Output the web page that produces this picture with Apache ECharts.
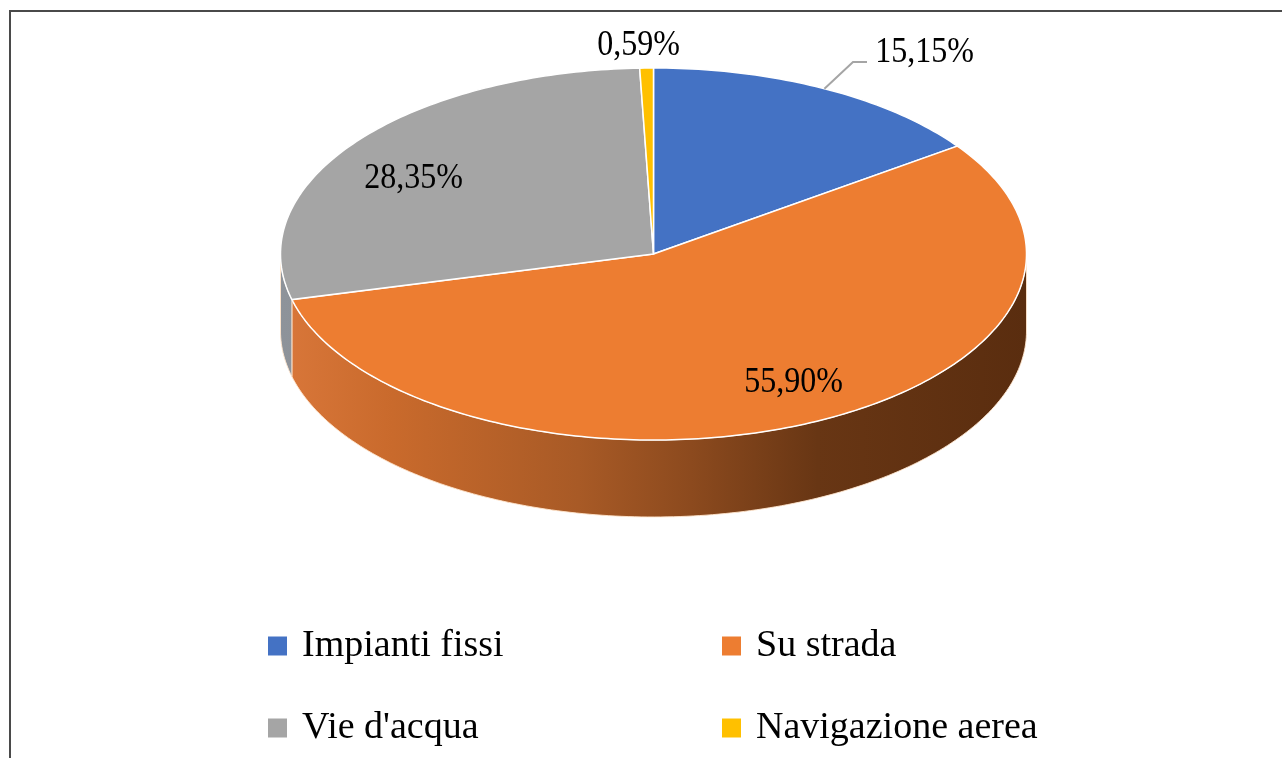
<!DOCTYPE html>
<html>
<head>
<meta charset="utf-8">
<script src="https://cdn.jsdelivr.net/npm/echarts@6/dist/echarts.min.js"></script>
<style>
  html, body { margin: 0; padding: 0; background: #fff; }
  #main { width: 1282px; height: 758px; }
</style>
</head>
<body>
<div id="main"></div>
<script>
// dati (quote %)
var categories = ['Impianti fissi', 'Su strada', "Vie d'acqua", 'Navigazione aerea'];
var values = [15.15, 55.90, 28.35, 0.59];
var labels = ['15,15%', '55,90%', '28,35%', '0,59%'];

// colori
var topColors = ['#4472C4', '#ED7D31', '#A5A5A5', '#FFC000'];
var sideStops = [
  [[0, '#2f5597'], [1, '#1f3864']],
  [[0, '#d9773a'], [0.15, '#c96a2c'], [0.4, '#a85a26'], [0.55, '#8c4a1e'], [0.72, '#683614'], [1, '#5a2d0f']],
  [[0, '#8e939a'], [1, '#6f6f6f']],
  [[0, '#c99700'], [1, '#8a6800']]
];

// geometria della torta 3d (px)
var CX = 653.5, CY = 254, RX = 373, RY = 186, DEPTH = 77;
// posizione etichette rispetto al centro
var labelOffset = [[271, -203], [140, 127], [-240, -77], [-15, -210]];
var leaderPts = [[[199.5, -192], [213.5, -192]], null, null, null];

var total = values.reduce(function (a, b) { return a + b; }, 0);
var starts = [];
var acc = 0;
values.forEach(function (v) { starts.push(acc); acc += v; });

function pt(a, dy) {
  var r = a * Math.PI / 180;
  return [CX + RX * Math.sin(r), CY - RY * Math.cos(r) + dy];
}

function arc(a0, a1, dy) {
  var pts = [];
  var n = Math.max(2, Math.ceil(a1 - a0));
  for (var k = 0; k <= n; k++) {
    pts.push(pt(a0 + (a1 - a0) * k / n, dy));
  }
  return pts;
}

function renderSlice(params, api) {
  var idx = params.seriesIndex;
  var start = api.value(0), val = api.value(1);
  var a0 = start / total * 360, a1 = (start + val) / total * 360;
  var children = [];

  // lato visibile (metà frontale)
  var s0 = Math.max(a0, 90), s1 = Math.min(a1, 270);
  if (s1 > s0) {
    var side = arc(s0, s1, 0).concat(arc(s0, s1, DEPTH).reverse());
    children.push({
      type: 'polygon',
      shape: { points: side },
      style: {
        fill: {
          type: 'linear', x: CX - RX, y: 0, x2: CX + RX, y2: 0, global: true,
          colorStops: sideStops[idx].map(function (s) { return { offset: s[0], color: s[1] }; })
        },
        stroke: 'rgba(255,230,205,0.9)',
        lineWidth: 1
      }
    });
  }

  // faccia superiore
  var top = [[CX, CY]].concat(arc(a0, a1, 0));
  children.push({
    type: 'polygon',
    shape: { points: top },
    style: { fill: api.visual('color'), stroke: '#ffffff', lineWidth: 1.5 }
  });

  // linea guida
  var mid = (a0 + a1) / 2;
  if (leaderPts[idx]) {
    var lp = [pt(mid, 0)].concat(leaderPts[idx].map(function (p) { return [CX + p[0], CY + p[1]]; }));
    children.push({
      type: 'polyline',
      shape: { points: lp },
      style: { stroke: '#A5A5A5', lineWidth: 2, fill: null }
    });
  }

  // etichetta (leggermente allungata in verticale come nell'originale)
  children.push({
    type: 'text',
    x: CX + labelOffset[idx][0],
    y: CY + labelOffset[idx][1] + 2,
    scaleY: 1.1,
    style: {
      text: labels[idx],
      x: 0,
      y: 0,
      fill: '#000',
      font: '32px "Liberation Serif", "Times New Roman", serif',
      align: 'center',
      verticalAlign: 'middle'
    }
  });

  return { type: 'group', children: children };
}

var legendLeft = [268, 722];
var legendTop = [626, 708];

var chart = echarts.init(document.getElementById('main'));
var option = {
  backgroundColor: '#ffffff',
  animation: false,
  graphic: [{
    type: 'rect',
    shape: { x: 10, y: 11, width: 1300, height: 800 },
    style: { fill: 'none', stroke: '#4a4a4a', lineWidth: 2 },
    z: 0
  }],
  legend: categories.map(function (name, i) {
    return {
      data: [name],
      left: legendLeft[i % 2],
      top: legendTop[Math.floor(i / 2)],
      icon: 'rect',
      itemWidth: 19,
      itemHeight: 19,
      padding: 0,
      selectedMode: false,
      textStyle: {
        fontSize: 38,
        lineHeight: 40,
        fontFamily: '"Liberation Serif", "Times New Roman", serif',
        color: '#000',
        padding: [0, 0, 0, 10]
      }
    };
  }),
  series: categories.map(function (name, i) {
    return {
      type: 'custom',
      name: name,
      coordinateSystem: 'none',
      itemStyle: { color: topColors[i] },
      renderItem: renderSlice,
      data: [[starts[i], values[i]]]
    };
  })
};
chart.setOption(option);
</script>
</body>
</html>
